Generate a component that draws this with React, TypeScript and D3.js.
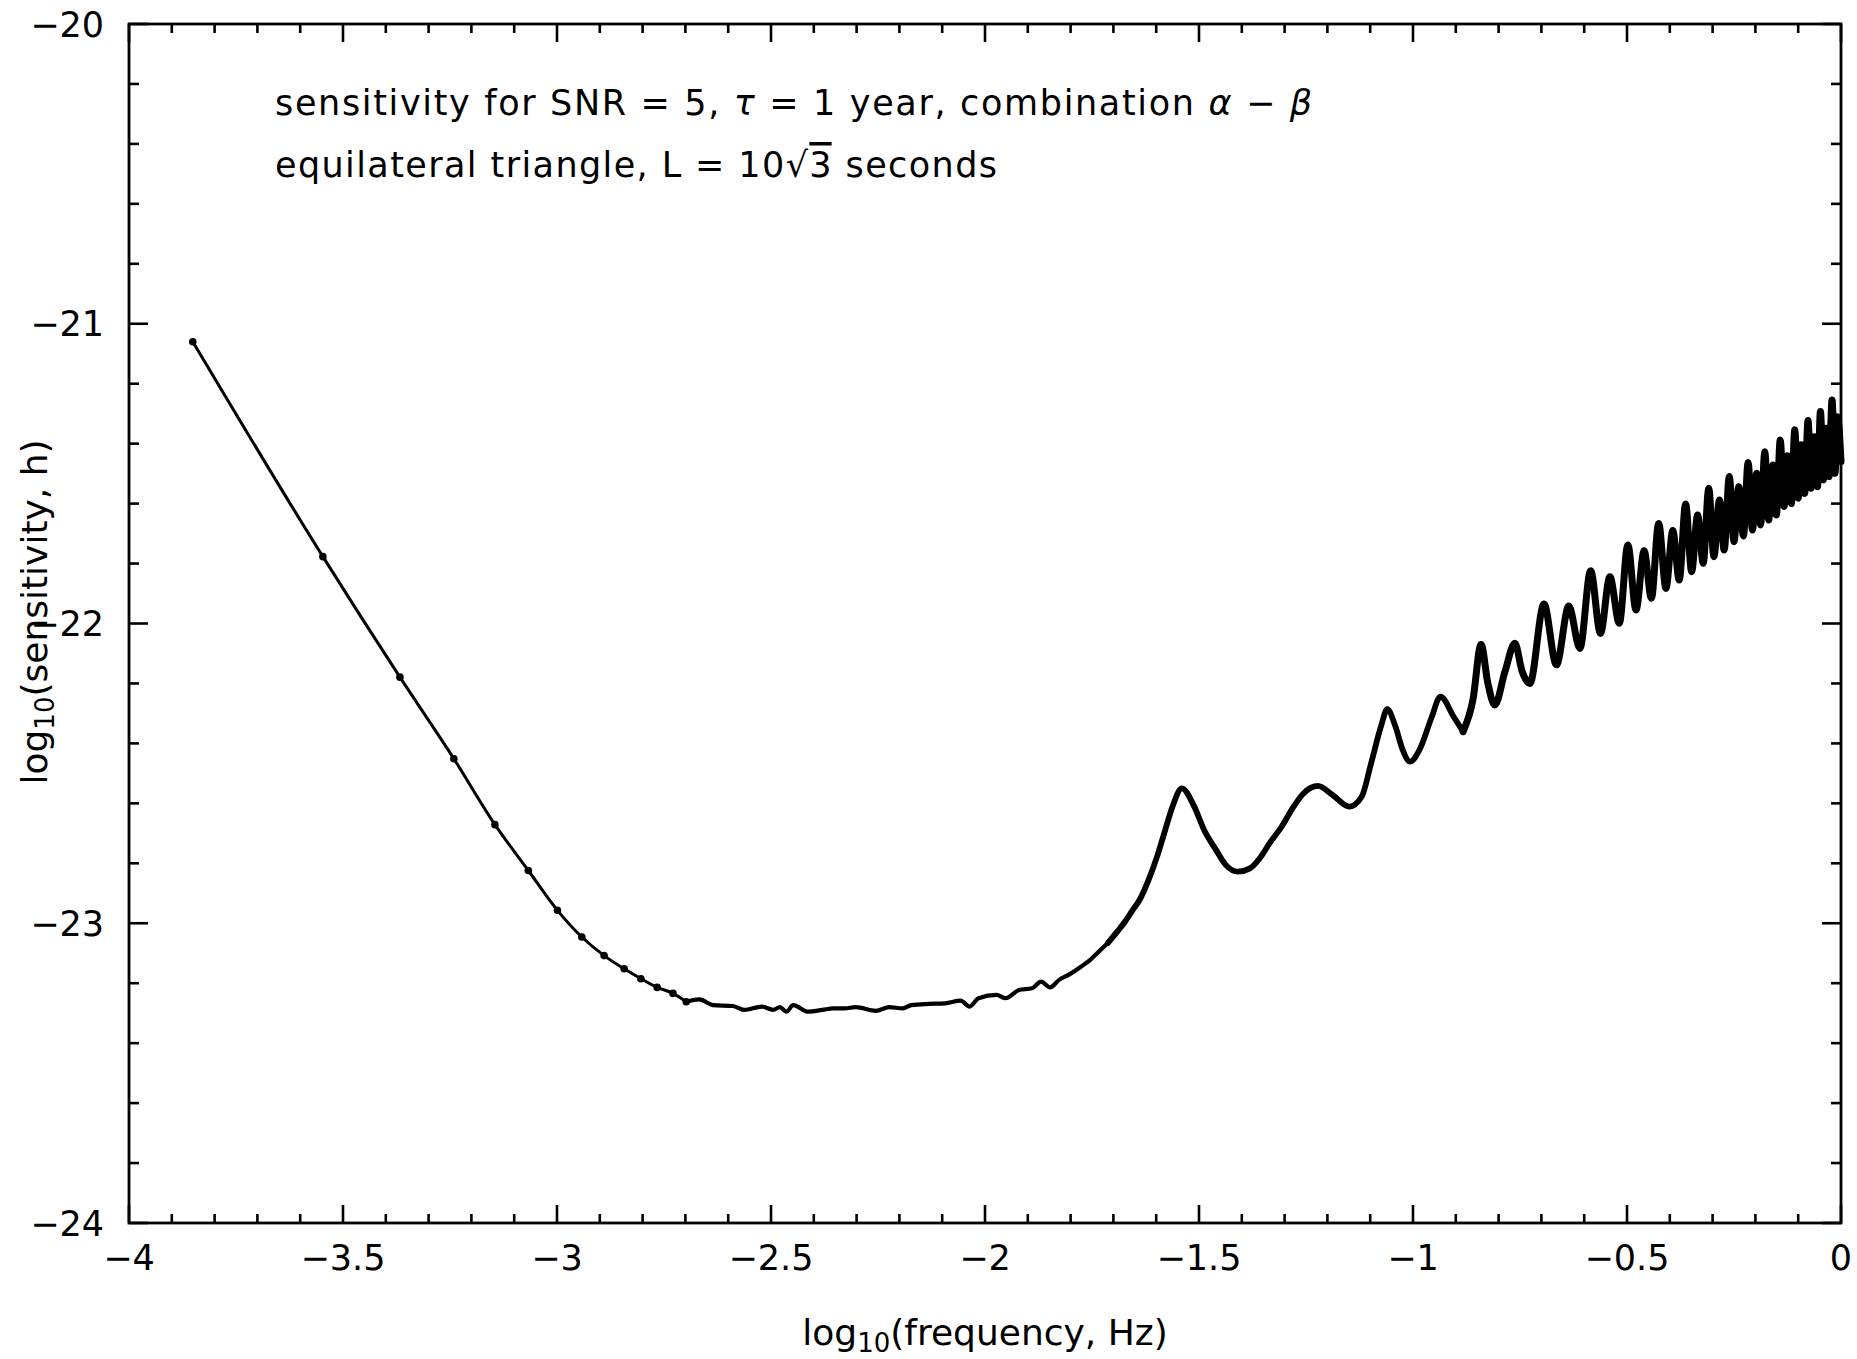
import React from 'react';
import * as d3 from 'd3';

const W = 1857;
const H = 1359;

const xMajorTicks = [-4, -3.5, -3, -2.5, -2, -1.5, -1, -0.5, 0];
const yMajorTicks = [-20, -21, -22, -23, -24];

// log10(frequency, Hz)
const logFreq = [
  -3.851, -3.547, -3.367, -3.241, -3.145, -3.067, -2.999, -2.942, -2.890, -2.843,
  -2.804, -2.766, -2.729, -2.698, -2.667, -2.636, -2.589, -2.563, -2.521, -2.495,
  -2.479, -2.464, -2.448, -2.413, -2.380, -2.354, -2.328, -2.302, -2.255, -2.224,
  -2.192, -2.172, -2.130, -2.093, -2.057, -2.036, -2.015, -1.973, -1.952, -1.921,
  -1.890, -1.869, -1.848, -1.827, -1.801, -1.775, -1.754, -1.738, -1.713, -1.691,
  -1.673, -1.655, -1.640, -1.618, -1.598, -1.579, -1.562, -1.540, -1.511, -1.488,
  -1.460, -1.437, -1.409, -1.381, -1.358, -1.335, -1.307, -1.279, -1.256, -1.222,
  -1.188, -1.149, -1.120, -1.098, -1.075, -1.060, -1.041, -1.024, -1.007, -0.985,
  -0.956, -0.936, -0.905, -0.883, -0.860, -0.841, -0.825, -0.809, -0.785, -0.762,
  -0.745, -0.727, -0.694, -0.665, -0.636, -0.610, -0.585, -0.562, -0.540, -0.518,
  -0.498, -0.479, -0.460, -0.443, -0.426, -0.409, -0.393, -0.378, -0.363, -0.349,
  -0.335, -0.322, -0.309, -0.297, -0.284, -0.273, -0.261, -0.250, -0.239, -0.228,
  -0.217, -0.207, -0.197, -0.188, -0.178, -0.169, -0.159, -0.151, -0.142, -0.133,
  -0.125, -0.116, -0.108, -0.100, -0.093, -0.085, -0.077, -0.070, -0.063, -0.055,
  -0.048, -0.041, -0.034, -0.028, -0.021, -0.014, -0.008, 0.0,
];

// log10(sensitivity, h)
const logSens = [
  -21.060, -21.777, -22.179, -22.451, -22.671, -22.824, -22.957, -23.046, -23.108, -23.152,
  -23.185, -23.214, -23.234, -23.262, -23.254, -23.273, -23.276, -23.289, -23.278, -23.289,
  -23.280, -23.295, -23.273, -23.295, -23.289, -23.284, -23.284, -23.280, -23.292, -23.280,
  -23.284, -23.273, -23.269, -23.267, -23.258, -23.278, -23.250, -23.239, -23.250, -23.223,
  -23.217, -23.195, -23.214, -23.189, -23.169, -23.144, -23.122, -23.100, -23.066, -23.028,
  -22.995, -22.956, -22.925, -22.856, -22.778, -22.689, -22.611, -22.550, -22.611, -22.689,
  -22.756, -22.806, -22.828, -22.817, -22.783, -22.733, -22.678, -22.611, -22.567, -22.542,
  -22.572, -22.611, -22.578, -22.467, -22.344, -22.286, -22.344, -22.422, -22.461, -22.422,
  -22.311, -22.244, -22.311, -22.361, -22.255, -22.070, -22.200, -22.272, -22.160, -22.066,
  -22.160, -22.200, -21.935, -22.138, -21.942, -22.083, -21.824, -22.033, -21.844, -21.999,
  -21.738, -21.955, -21.757, -21.916, -21.666, -21.883, -21.690, -21.855, -21.601, -21.827,
  -21.638, -21.799, -21.549, -21.777, -21.588, -21.755, -21.510, -21.727, -21.544, -21.708,
  -21.463, -21.688, -21.499, -21.671, -21.427, -21.655, -21.471, -21.638, -21.388, -21.610,
  -21.440, -21.600, -21.354, -21.582, -21.404, -21.566, -21.323, -21.549, -21.377, -21.544,
  -21.293, -21.521, -21.349, -21.510, -21.254, -21.499, -21.310, -21.460,
];

const FONT = '"DejaVu Sans", "Liberation Sans", sans-serif';

export default function App() {
  const x = d3.scaleLinear().domain([-4, 0]).range([129, 1841]);
  const y = d3.scaleLinear().domain([-24, -20]).range([1223, 24]);
  const fmt = d3.format('');

  const pts: [number, number][] = logFreq.map((f, i) => [f, logSens[i]]);
  const line = d3
    .line<[number, number]>()
    .x((d) => x(d[0]))
    .y((d) => y(d[1]))
    .curve(d3.curveMonotoneX);

  const segments = [
    { lo: -4, hi: -2.698, w: 3 },
    { lo: -2.698, hi: -1.713, w: 4.2 },
    { lo: -1.713, hi: -0.883, w: 5.8 },
    { lo: -0.883, hi: 0.001, w: 7 },
  ];

  const markers = pts.filter((d) => d[0] <= -2.69);

  const xMinor = x.ticks(40);
  const yMinor = y.ticks(20);
  const isMajorX = (v: number) => xMajorTicks.some((t) => Math.abs(t - v) < 1e-6);
  const isMajorY = (v: number) => yMajorTicks.some((t) => Math.abs(t - v) < 1e-6);

  const [x0, x1] = x.range();
  const [y0, y1] = [y(-24), y(-20)];

  return (
    <svg
      width={W}
      height={H}
      viewBox={`0 0 ${W} ${H}`}
      style={{ position: 'absolute', left: 0, top: 0, background: '#fff' }}
    >
      <rect x={0} y={0} width={W} height={H} fill="#fff" />
      {/* frame */}
      <rect x={x0} y={y1} width={x1 - x0} height={y0 - y1} fill="none" stroke="#000" strokeWidth={2.8} />

      {/* x ticks bottom & top */}
      {xMinor.map((v) => {
        const len = isMajorX(v) ? 18 : 9;
        const px = x(v);
        return (
          <g key={`xt${v}`}>
            <line x1={px} x2={px} y1={y0} y2={y0 - len} stroke="#000" strokeWidth={2.6} />
            <line x1={px} x2={px} y1={y1} y2={y1 + len} stroke="#000" strokeWidth={2.6} />
          </g>
        );
      })}
      {/* y ticks left & right */}
      {yMinor.map((v) => {
        const len = isMajorY(v) ? 19 : 10;
        const py = y(v);
        return (
          <g key={`yt${v}`}>
            <line x1={x0} x2={x0 + len} y1={py} y2={py} stroke="#000" strokeWidth={2.6} />
            <line x1={x1} x2={x1 - len} y1={py} y2={py} stroke="#000" strokeWidth={2.6} />
          </g>
        );
      })}

      {/* tick labels */}
      {xMajorTicks.map((v) => (
        <text
          key={`xl${v}`}
          x={x(v)}
          y={1270}
          textAnchor="middle"
          fontFamily={FONT}
          fontSize={35}
          fill="#000"
        >
          {fmt(v)}
        </text>
      ))}
      {yMajorTicks.map((v) => (
        <text
          key={`yl${v}`}
          x={104}
          y={y(v) + 12.5}
          textAnchor="end"
          fontFamily={FONT}
          fontSize={35}
          fill="#000"
        >
          {fmt(v)}
        </text>
      ))}

      {/* axis titles */}
      <text
        x={(x0 + x1) / 2}
        y={1345}
        textAnchor="middle"
        fontFamily={FONT}
        fontSize={36}
        fill="#000"
      >
        {'log'}
        <tspan dy={7} fontSize={26}>
          10
        </tspan>
        <tspan dy={-7}>{'(frequency, Hz)'}</tspan>
      </text>
      <text
        transform={`translate(47, 612) rotate(-90)`}
        textAnchor="middle"
        fontFamily={FONT}
        fontSize={36}
        fill="#000"
      >
        {'log'}
        <tspan dy={7} fontSize={26}>
          10
        </tspan>
        <tspan dy={-7}>{'(sensitivity,  h)'}</tspan>
      </text>

      {/* annotation */}
      <text
        x={275}
        y={115}
        fontFamily={FONT}
        fontSize={35}
        fill="#000"
        textLength={1037}
        lengthAdjust="spacing"
      >
        {'sensitivity for SNR = 5, '}
        <tspan fontStyle="italic">τ</tspan>
        {' = 1 year, combination '}
        <tspan fontStyle="italic">α</tspan>
        {' − '}
        <tspan fontStyle="italic">β</tspan>
      </text>
      <text
        x={275}
        y={177}
        fontFamily={FONT}
        fontSize={35}
        fill="#000"
        textLength={722}
        lengthAdjust="spacing"
      >
        {'equilateral triangle, L = 10√'}
        <tspan style={{ textDecoration: 'overline' }}>3</tspan>
        {' seconds'}
      </text>

      {/* curve */}
      {segments.map((s, i) => (
        <path
          key={`seg${i}`}
          d={line(pts.filter((d) => d[0] >= s.lo && d[0] <= s.hi)) || ''}
          fill="none"
          stroke="#000"
          strokeWidth={s.w}
          strokeLinejoin="round"
          strokeLinecap="round"
        />
      ))}
      {markers.map((d, i) => (
        <circle key={`m${i}`} cx={x(d[0])} cy={y(d[1])} r={3.8} fill="#000" />
      ))}
    </svg>
  );
}
